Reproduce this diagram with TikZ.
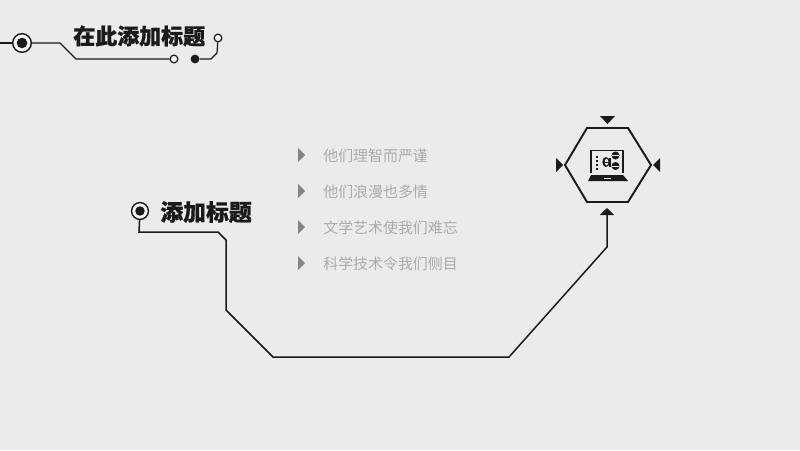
\documentclass[tikz,border=0pt]{standalone}
\usepackage{fontspec}
\usetikzlibrary{arrows.meta}
\newfontfamily\cjk[BoldFeatures={FakeBold=0.7}]{Noto Sans CJK SC}
\definecolor{bgc}{HTML}{EBEBEB}
\definecolor{inkc}{HTML}{1A1A1A}
\definecolor{itemc}{HTML}{ABABAB}
\definecolor{bulc}{HTML}{858585}
\tikzset{
	wire/.style={draw=inkc, line width=0.85pt, line join=miter},
	thinwire/.style={draw=inkc, line width=0.7pt, line join=miter},
	ring/.style={circle, draw=inkc, fill=bgc!60!white, line width=0.8pt, inner sep=0pt, minimum size=10.6pt},
	core/.style={circle, fill=inkc, inner sep=0pt, minimum size=6pt},
	pin/.style={circle, draw=inkc, fill=bgc!60!white, line width=0.7pt, inner sep=0pt, minimum size=4.4pt},
	pinfull/.style={circle, fill=inkc, inner sep=0pt, minimum size=5pt},
	headline/.style={text=inkc, inner sep=0pt, anchor=west, font=\cjk\bfseries},
	itemtext/.style={text=itemc, inner sep=0pt, anchor=west, font=\cjk\fontsize{8.5pt}{10pt}\selectfont},
}
\begin{document}
\begin{tikzpicture}[x=0.02cm, y=-0.02cm]
	\useasboundingbox (0,0) rectangle (800,450);
	\fill[bgc] (0,0) rectangle (800,450);
	% top title
	\coordinate (tl) at (0,43);
	\coordinate (t1) at (60,43);
	\coordinate (t2) at (76,59);
	\coordinate (t3) at (211,59);
	\coordinate (t4) at (217,53);
	\node[ring] (topring) at (22,43) {};
	\node[core] at (topring) {};
	\node[pin] (toppinb) at (174,59) {};
	\node[pinfull] (toppinf) at (195,59) {};
	\node[pin] (toppinr) at (218,38) {};
	\draw[thinwire] (tl) -- (topring);
	\draw[thinwire] (topring) -- (t1) -- (t2) -- (toppinb);
	\draw[thinwire] (toppinf) -- (t3) -- (t4) -- (toppinr);
	\node[headline, font=\cjk\bfseries\fontsize{12.5pt}{14pt}\selectfont] (toptitle) at (73,36) {在此添加标题};
	% left title and long connector
	\node[ring, minimum size=9.6pt] (midring) at (140,211) {};
	\node[core, minimum size=5.4pt] at (midring) {};
	\node[headline, font=\cjk\bfseries\fontsize{13pt}{15pt}\selectfont] (midtitle) at (160,212) {添加标题};
	\coordinate (m1) at (139,232);
	\coordinate (m2) at (218,232);
	\coordinate (m3) at (226,240);
	\coordinate (m4) at (226,310);
	\coordinate (m5) at (273,357);
	\coordinate (m6) at (509,357);
	\coordinate (m7) at (607,247);
	\coordinate (hexin) at (607,208);
	\draw[wire, -{Triangle[length=4pt, width=8pt]}] (midring) -- (m1) -- (m2) -- (m3) -- (m4) -- (m5) -- (m6) -- (m7) -- (hexin);
	% list
	\foreach \i/\y/\t in {a/155/他们理智而严谨, b/191/他们浪漫也多情, c/227/文学艺术使我们难忘, d/263/科学技术令我们侧目}{
		\fill[bulc] (298,\y-7) -- (305,\y) -- (298,\y+7) -- cycle;
		\node[itemtext] (item\i) at (323,\y+1) {\t};
	}
	% hexagon
	\draw[inkc, line width=1.1pt] (565,165) -- (587,128) -- (628,128) -- (651,165) -- (628,202) -- (587,202) -- cycle;
	\fill[inkc] (600,116) -- (615,116) -- (607.5,124) -- cycle;
	\fill[inkc] (556,158) -- (563,165) -- (556,172) -- cycle;
	\fill[inkc] (660,158) -- (653,165) -- (660,172) -- cycle;
	% laptop
	\draw[inkc, line width=0.7pt] (591,173) -- (591,150.5) -- (623,150.5) -- (623,173);
	\fill[inkc] (591,175) -- (623,175) -- (628,181) -- (588,181) -- cycle;
	\fill[bgc] (604,177.5) rectangle (611,179);
	\foreach \y in {156,160,164,168}{
		\fill[inkc] (596,\y) rectangle (598,\y+2);
	}
	\fill[inkc] (615.5,155.5) circle (4);
	\fill[inkc] (615.5,166) circle (4);
	\draw[bgc, line width=0.2pt] (612,155.5) -- (619,155.5) (612,166) -- (619,166);
	\fill[inkc] (606,162) ellipse (3.6 and 5);
	\fill[bgc] (606.5,162) ellipse (1.8 and 3.3);
	\fill[inkc] (603,161.5) rectangle (608,163);
	\fill[inkc] (608.5,157.5) rectangle (610.5,167);
\end{tikzpicture}
\end{document}
